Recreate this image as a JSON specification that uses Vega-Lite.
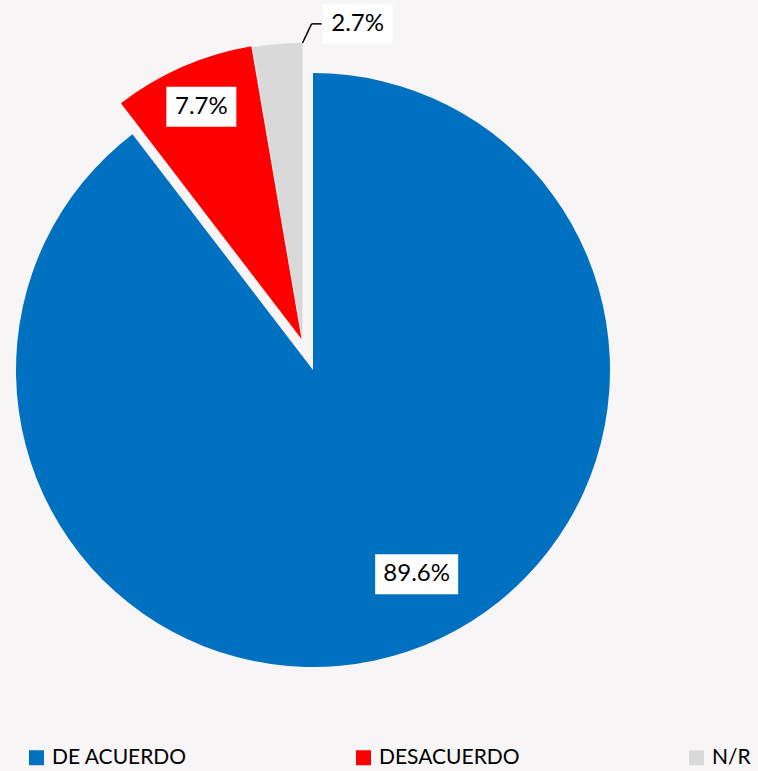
{
  "$schema": "https://vega.github.io/schema/vega-lite/v6.json",
  "width": 758,
  "height": 771,
  "autosize": "none",
  "padding": 0,
  "background": "#f7f5f6",
  "data": {
    "values": [
      {"category": "DE ACUERDO", "value": 89.6},
      {"category": "DESACUERDO", "value": 7.7},
      {"category": "N/R", "value": 2.7}
    ]
  },
  "transform": [
    {"window": [{"op": "sum", "field": "value", "as": "cum"}], "frame": [null, 0]},
    {"calculate": "datum.cum - datum.value", "as": "start"},
    {"calculate": "(datum.cum - datum.value / 2) * 3.6", "as": "mid"},
    {"calculate": "datum.category == 'DE ACUERDO' ? 0 : (datum.category == 'DESACUERDO' ? -11.5 : -10.5)", "as": "ex"},
    {"calculate": "datum.category == 'DE ACUERDO' ? 0 : (datum.category == 'DESACUERDO' ? -31 : -30)", "as": "ey"},
    {"calculate": "datum.mid + (datum.category == 'DE ACUERDO' ? -8.2 : (datum.category == 'DESACUERDO' ? 0.6 : 12.2))", "as": "lang"},
    {"calculate": "datum.category == 'DE ACUERDO' ? 229 : (datum.category == 'DESACUERDO' ? 286 : 349)", "as": "lrad"},
    {"calculate": "datum.lrad * sin(datum.lang * PI / 180)", "as": "lx"},
    {"calculate": "-datum.lrad * cos(datum.lang * PI / 180)", "as": "ly"},
    {"calculate": "datum.category == 'DE ACUERDO' ? 83 : 70", "as": "bw"},
    {"calculate": "datum.lx - datum.bw / 2", "as": "bx1"},
    {"calculate": "datum.lx + datum.bw / 2", "as": "bx2"},
    {"calculate": "datum.ly - 20", "as": "by1"},
    {"calculate": "datum.ly + 20", "as": "by2"},
    {"calculate": "format(datum.value, '.1f') + '%'", "as": "label"},
    {"calculate": "datum.ex", "as": "p1x"},
    {"calculate": "datum.ey - 297", "as": "p1y"},
    {"calculate": "datum.bx1 - 11", "as": "p2x"},
    {"calculate": "datum.ly", "as": "p2y"},
    {"calculate": "datum.bx1 - 1", "as": "p3x"}
  ],
  "layer": [
    {
      "mark": {"type": "arc", "radius": 297, "stroke": null},
      "encoding": {
        "x": {"field": "ex", "type": "quantitative", "scale": {"domain": [-313, 445], "nice": false, "zero": false}, "axis": null},
        "y": {"field": "ey", "type": "quantitative", "scale": {"domain": [-370, 401], "nice": false, "zero": false, "reverse": true}, "axis": null},
        "theta": {"field": "start", "type": "quantitative", "stack": null, "scale": {"domain": [0, 100]}},
        "theta2": {"field": "cum"},
        "color": {
          "field": "category",
          "type": "nominal",
          "scale": {"domain": ["DE ACUERDO", "DESACUERDO", "N/R"], "range": ["#0070c0", "#ff0000", "#d9d9d9"]},
          "legend": {
            "orient": "none",
            "legendX": 26,
            "legendY": 747,
            "direction": "horizontal",
            "title": null,
            "symbolType": "square",
            "symbolSize": 225,
            "symbolStrokeWidth": 0,
            "labelFont": "Lato",
            "labelFontSize": 21,
            "labelColor": "#000000",
            "labelOffset": 5,
            "columnPadding": 166
          }
        }
      }
    },
    {
      "transform": [{"filter": "datum.category == 'N/R'"}],
      "mark": {"type": "rule", "color": "#000000", "strokeWidth": 1.5},
      "encoding": {
        "x": {"field": "p1x", "type": "quantitative"},
        "y": {"field": "p1y", "type": "quantitative"},
        "x2": {"field": "p2x"},
        "y2": {"field": "p2y"}
      }
    },
    {
      "transform": [{"filter": "datum.category == 'N/R'"}],
      "mark": {"type": "rule", "color": "#000000", "strokeWidth": 1.5},
      "encoding": {
        "x": {"field": "p2x", "type": "quantitative"},
        "y": {"field": "p2y", "type": "quantitative"},
        "x2": {"field": "p3x"},
        "y2": {"field": "p2y"}
      }
    },
    {
      "mark": {"type": "rect", "color": "#ffffff"},
      "encoding": {
        "x": {"field": "bx1", "type": "quantitative"},
        "x2": {"field": "bx2"},
        "y": {"field": "by1", "type": "quantitative"},
        "y2": {"field": "by2"}
      }
    },
    {
      "mark": {"type": "text", "font": "Lato", "fontSize": 24, "color": "#000000", "align": "center", "baseline": "middle"},
      "encoding": {
        "x": {"field": "lx", "type": "quantitative"},
        "y": {"field": "ly", "type": "quantitative"},
        "text": {"field": "label"}
      }
    }
  ],
  "config": {
    "view": {"stroke": null},
    "axis": {"disable": true}
  }
}
